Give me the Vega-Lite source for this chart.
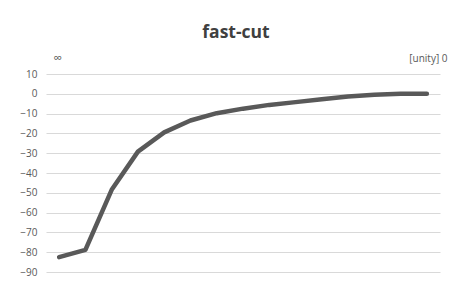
{
  "$schema": "https://vega.github.io/schema/vega-lite/v6.json",
  "autosize": "none",
  "width": 394,
  "height": 198,
  "padding": {"left": 46, "top": 74, "right": 22, "bottom": 10},
  "background": "#ffffff",
  "title": {
    "text": "fast-cut",
    "font": "Open Sans",
    "fontSize": 17.5,
    "fontWeight": "bold",
    "color": "#404040",
    "anchor": "middle",
    "frame": "group",
    "dx": -7,
    "offset": 10
  },
  "data": {
    "values": [
      {"i": 1, "v": -82.5},
      {"i": 2, "v": -78.8},
      {"i": 3, "v": -48.5},
      {"i": 4, "v": -29.2},
      {"i": 5, "v": -19.5},
      {"i": 6, "v": -13.5},
      {"i": 7, "v": -9.8},
      {"i": 8, "v": -7.5},
      {"i": 9, "v": -5.6},
      {"i": 10, "v": -4.2},
      {"i": 11, "v": -2.7},
      {"i": 12, "v": -1.4},
      {"i": 13, "v": -0.5},
      {"i": 14, "v": 0},
      {"i": 15, "v": 0}
    ]
  },
  "mark": {"type": "line", "color": "#595959", "strokeWidth": 4.5, "strokeCap": "round", "strokeJoin": "round"},
  "encoding": {
    "x": {
      "field": "i",
      "type": "ordinal",
      "scale": {"type": "point", "padding": 0.5},
      "axis": {
        "orient": "top",
        "labels": false,
        "ticks": false,
        "domain": false,
        "grid": false,
        "title": "[unity] 0",
        "titleFont": "Open Sans",
        "titleFontSize": 10,
        "titleFontWeight": "normal",
        "titleColor": "#595959",
        "titleAlign": "right",
        "titleBaseline": "alphabetic",
        "titleX": 401,
        "titleY": -13
      }
    },
    "y": {
      "field": "v",
      "type": "quantitative",
      "scale": {"domain": [-90, 10], "nice": false, "zero": false},
      "axis": {
        "values": [-90, -80, -70, -60, -50, -40, -30, -20, -10, 0, 10],
        "ticks": false,
        "domain": false,
        "grid": true,
        "gridColor": "#d9d9d9",
        "gridWidth": 1,
        "labelFont": "Open Sans",
        "labelFontSize": 10,
        "labelColor": "#595959",
        "labelPadding": 9,
        "title": "∞",
        "titleFont": "Open Sans",
        "titleFontSize": 12,
        "titleFontWeight": "normal",
        "titleColor": "#595959",
        "titleAngle": 0,
        "titleAlign": "center",
        "titleBaseline": "alphabetic",
        "titleX": 11,
        "titleY": -13
      }
    }
  },
  "config": {"view": {"stroke": null}}
}
